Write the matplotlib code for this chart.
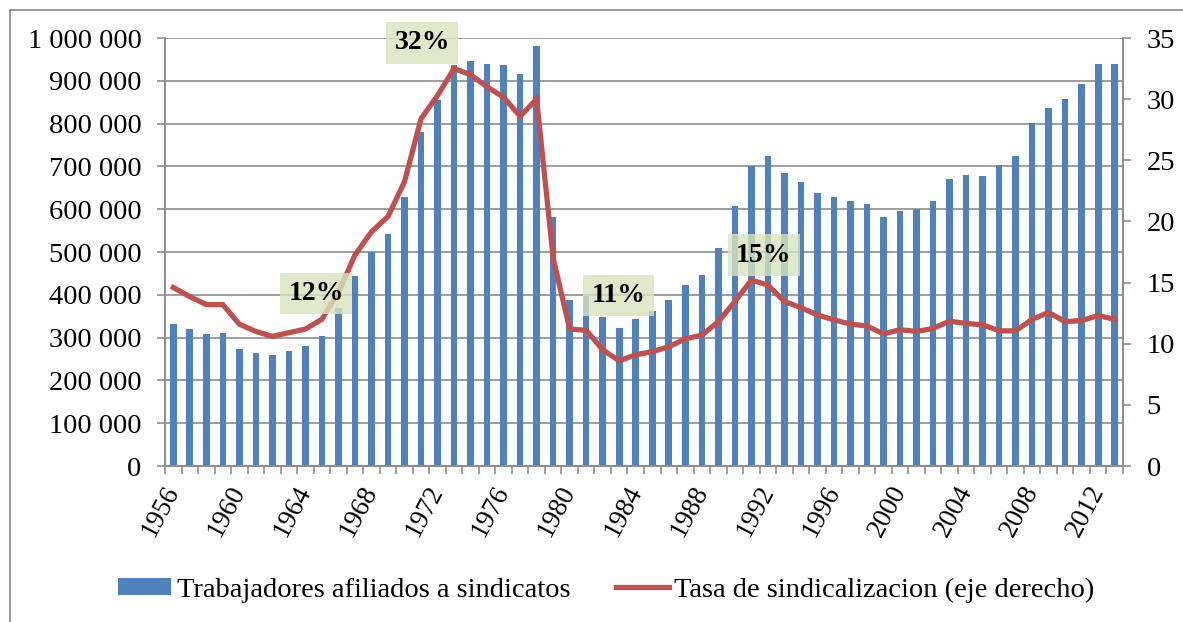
import matplotlib
matplotlib.use("Agg")
import matplotlib.pyplot as plt
from matplotlib.lines import Line2D
from matplotlib.patches import Patch
import numpy as np

plt.rcParams['font.family'] = ['Liberation Serif', 'DejaVu Serif']

years = list(range(1956, 2014))
afiliados = [332, 319, 308, 310, 274, 265, 259, 269, 280, 304,
             369, 443, 501, 543, 628, 781, 855, 937, 946, 940,
             938, 916, 982, 581, 388, 397, 349, 322, 344, 362,
             388, 423, 446, 509, 607, 702, 724, 685, 663, 638,
             628, 618, 613, 581, 596, 600, 619, 670, 680, 677,
             703, 724, 801, 836, 858, 893, 940, 940]
afiliados = [v * 1000 for v in afiliados]
tasa = [14.6, 13.85, 13.2, 13.2, 11.6, 11.0, 10.6, 10.9, 11.2, 12.0,
        14.2, 17.25, 19.15, 20.4, 23.25, 28.4, 30.3, 32.5, 32.0, 31.0,
        30.15, 28.6, 30.0, 17.0, 11.2, 11.1, 9.5, 8.6, 9.1, 9.35,
        9.75, 10.4, 10.7, 11.8, 13.45, 15.2, 14.8, 13.45, 12.95, 12.35,
        11.95, 11.6, 11.45, 10.8, 11.15, 11.0, 11.25, 11.85, 11.65, 11.55,
        11.05, 11.05, 12.0, 12.55, 11.8, 11.9, 12.3, 12.0]
left_ticks = list(range(0, 1000001, 100000))
left_labels = ['0', '100 000', '200 000', '300 000', '400 000', '500 000',
               '600 000', '700 000', '800 000', '900 000', '1 000 000']
right_ticks = list(range(0, 36, 5))
year_label_step = 4
annotations = [("12%", 8.65, 14.1), ("32%", 15.07, 34.6), ("11%", 26.95, 13.95), ("15%", 35.75, 17.25)]
legend_labels = ["Trabajadores afiliados a sindicatos", "Tasa de sindicalizacion (eje derecho)"]

BLUE = '#4F81BD'
RED = '#C0504D'
GRID = '#8C8C8C'
W, H = 1183, 622

fig = plt.figure(figsize=(W / 100, H / 100), dpi=100)
ax = fig.add_axes([165 / W, 1 - 466 / H, (1123 - 165) / W, (466 - 38) / H])
ax2 = ax.twinx()

x = np.arange(len(years))
ax.bar(x, afiliados, width=0.4, color=BLUE, zorder=2)
ax.set_xlim(-0.5, len(years) - 0.5)
ax.set_ylim(0, 1000000)
ax.set_yticks(left_ticks)
ax.set_yticklabels(left_labels)
ax.yaxis.grid(True, color=GRID, linewidth=1.2, zorder=0)
ax.set_axisbelow(True)

ax.set_xticks(x[::year_label_step])
ax.set_xticklabels([str(y) for y in years[::year_label_step]], rotation=62,
                   ha='right', va='center', rotation_mode='anchor', fontsize=19.5)
ax.set_xticks(np.arange(-0.5, len(years), 1.0), minor=True)
ax.tick_params(axis='x', which='major', length=0, pad=15)
ax.tick_params(axis='x', which='minor', length=6, width=1.2, color=GRID, direction='out')
ax.tick_params(axis='y', length=6, width=1.2, color=GRID, labelsize=20.5, pad=11)

for s in ['top']:
    ax.spines[s].set_visible(False)
    ax2.spines[s].set_visible(False)
for s in ['left', 'right', 'bottom']:
    ax.spines[s].set_color(GRID)
    ax.spines[s].set_linewidth(1.2)
    ax2.spines[s].set_color(GRID)
    ax2.spines[s].set_linewidth(1.2)

ax2.plot(x, tasa, color=RED, linewidth=3.8, zorder=3, solid_joinstyle='miter')
ax2.set_ylim(0, 35)
ax2.set_yticks(right_ticks)
ax2.tick_params(axis='y', length=6, width=1.2, color=GRID, labelsize=20.5, pad=11)

for txt, ax_x, ax_y in annotations:
    ax2.text(ax_x, ax_y, txt, ha='center', va='center', fontsize=20, fontweight='bold',
             zorder=5, bbox=dict(boxstyle='square,pad=0.3', facecolor='#D7E4BD',
                                 edgecolor='none', alpha=0.8))

handles = [Patch(facecolor=BLUE, edgecolor='none'),
           Line2D([0], [0], color=RED, linewidth=3.8)]
fig.legend(handles, legend_labels, loc='center', bbox_to_anchor=(0.5 + 15 / W, 1 - 590 / H),
           ncol=2, frameon=False, fontsize=20.5, handlelength=1.85, handleheight=0.55,
           columnspacing=1.6, handletextpad=0.2)

# outer chart border
fig.add_artist(Line2D([10 / W, 10 / W], [0, 1 - 10 / H], transform=fig.transFigure,
                      color='#898989', linewidth=1.2))
fig.add_artist(Line2D([10 / W, 1], [1 - 10 / H, 1 - 10 / H], transform=fig.transFigure,
                      color='#898989', linewidth=1.2))

fig.savefig('out.png', dpi=100)
